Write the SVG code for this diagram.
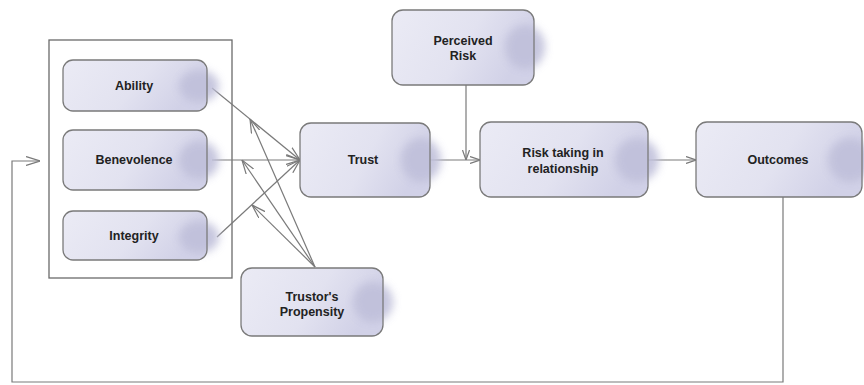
<svg xmlns="http://www.w3.org/2000/svg" width="864" height="385" viewBox="0 0 864 385">
<style>
.box{fill:url(#g);}
.bd{fill:none;stroke:#7a7a7a;stroke-width:1.3;}
.blob{fill:#c0c0da;filter:url(#bl);opacity:0.9;}
.t{font-family:"Liberation Sans",Arial,sans-serif;font-weight:bold;font-size:12.5px;fill:#222;text-anchor:middle;}
.c{fill:none;stroke:#7a7a7a;stroke-width:1.2;}
</style>
<defs>
<linearGradient id="g" x1="0" y1="0" x2="1" y2="0.3">
<stop offset="0" stop-color="#ebebf5"/>
<stop offset="0.6" stop-color="#e2e2f0"/>
<stop offset="1" stop-color="#d1d1e7"/>
</linearGradient>
<filter id="bl" x="-50%" y="-50%" width="200%" height="200%"><feGaussianBlur stdDeviation="4"/></filter>
<marker id="a" viewBox="0 0 14 10" refX="14" refY="5" markerWidth="14" markerHeight="10" markerUnits="userSpaceOnUse" orient="auto">
<path d="M0,0.5 L14,5 L0,9.5" fill="none" stroke="#7a7a7a" stroke-width="1.2"/>
</marker>
<marker id="s" viewBox="0 0 10 8" refX="10" refY="4" markerWidth="10" markerHeight="8" markerUnits="userSpaceOnUse" orient="auto">
<path d="M0,0.5 L10,4 L0,7.5" fill="none" stroke="#7a7a7a" stroke-width="1.2"/>
</marker>
</defs>
<rect x="0" y="0" width="864" height="385" fill="#fff"/>
<g id="group-box"><rect x="49" y="40" width="183" height="238" fill="none" stroke="#6a6a6a" stroke-width="1.3"/></g>
<g id="connectors">
<path class="c" d="M212,88 L300,160" marker-end="url(#a)"/>
<path class="c" d="M212,160 L300,160" marker-end="url(#a)"/>
<path class="c" d="M217,237 L300,160" marker-end="url(#a)"/>
<path class="c" d="M315,267 L250,119" marker-end="url(#a)"/>
<path class="c" d="M315,267 L242,160" marker-end="url(#a)"/>
<path class="c" d="M315,267 L252,205" marker-end="url(#a)"/>
<path class="c" d="M430,160 L480,160" marker-end="url(#s)"/>
<path class="c" d="M466,85 L466,160" marker-end="url(#s)"/>
<path class="c" d="M648,160 L696,160" marker-end="url(#s)"/>
<path class="c" d="M783,197 L783,382 L12,382 L12,161 L40,161" marker-end="url(#a)"/>
</g>
<g id="ability"><rect class="box" x="63" y="60" width="144" height="51" rx="10"/><ellipse class="blob" cx="199" cy="86" rx="20" ry="16"/><rect class="bd" x="63" y="60" width="144" height="51" rx="10"/><text class="t" x="134" y="90">Ability</text></g>
<g id="benevolence"><rect class="box" x="63" y="130" width="144" height="60" rx="10"/><ellipse class="blob" cx="199" cy="160" rx="20" ry="19"/><rect class="bd" x="63" y="130" width="144" height="60" rx="10"/><text class="t" x="134" y="164">Benevolence</text></g>
<g id="integrity"><rect class="box" x="63" y="211" width="144" height="49" rx="10"/><ellipse class="blob" cx="199" cy="237" rx="20" ry="16"/><rect class="bd" x="63" y="211" width="144" height="49" rx="10"/><text class="t" x="134" y="240">Integrity</text></g>
<g id="trust"><rect class="box" x="300" y="123" width="130" height="74" rx="11"/><ellipse class="blob" cx="421" cy="160" rx="20" ry="22"/><rect class="bd" x="300" y="123" width="130" height="74" rx="11"/><text class="t" x="363" y="164">Trust</text></g>
<g id="perceived-risk"><rect class="box" x="392" y="10" width="142" height="75" rx="11"/><ellipse class="blob" cx="525" cy="47" rx="20" ry="22"/><rect class="bd" x="392" y="10" width="142" height="75" rx="11"/><text class="t" x="463" y="45">Perceived</text><text class="t" x="463" y="60">Risk</text></g>
<g id="risk-taking"><rect class="box" x="480" y="122" width="168" height="75" rx="11"/><ellipse class="blob" cx="637" cy="160" rx="22" ry="22"/><rect class="bd" x="480" y="122" width="168" height="75" rx="11"/><text class="t" x="563" y="157">Risk taking in</text><text class="t" x="563" y="173">relationship</text></g>
<g id="outcomes"><rect class="box" x="696" y="122" width="166" height="75" rx="11"/><ellipse class="blob" cx="850" cy="160" rx="22" ry="22"/><rect class="bd" x="696" y="122" width="166" height="75" rx="11"/><text class="t" x="778" y="164">Outcomes</text></g>
<g id="propensity"><rect class="box" x="241" y="268" width="142" height="68" rx="11"/><ellipse class="blob" cx="373" cy="302" rx="20" ry="20"/><rect class="bd" x="241" y="268" width="142" height="68" rx="11"/><text class="t" x="312" y="301">Trustor's</text><text class="t" x="312" y="316">Propensity</text></g>
</svg>
